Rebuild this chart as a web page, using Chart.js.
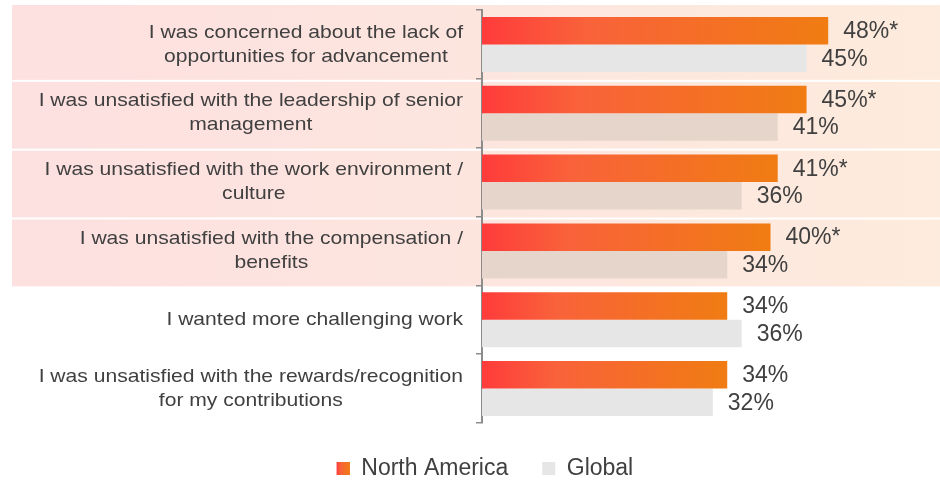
<!DOCTYPE html>
<html>
<head>
<meta charset="utf-8">
<script src="https://cdn.jsdelivr.net/npm/chart.js@4.4.1/dist/chart.umd.min.js"></script>
<style>
  html, body { margin: 0; padding: 0; background: #fff; }
  #wrap { width: 940px; height: 480px; }
</style>
</head>
<body>
<div id="wrap"><canvas id="reasonsChart"></canvas></div>
<script>
// reasons for leaving, one entry per row (lines of the label)
const categories = [
    ['I was concerned about the lack of', 'opportunities for advancement'],
    ['I was unsatisfied with the leadership of senior', 'management'],
    ['I was unsatisfied with the work environment /', 'culture'],
    ['I was unsatisfied with the compensation /', 'benefits'],
    ['I wanted more challenging work'],
    ['I was unsatisfied with the rewards/recognition', 'for my contributions']
];
const seriesNames = ['North America', 'Global'];
const northAmerica = [48, 45, 41, 40, 34, 34];
const globalValues = [45, 41, 36, 34, 36, 32];
// rows where North America differs significantly (marked with *)
const significant = [true, true, true, true, false, false];
const highlightedRows = [0, 1, 2, 3];

const textColor = '#404040';
const axisColor = '#8c8c8c';
const FONT = "'Liberation Sans', Arial, Helvetica, sans-serif";
const globalColors = ['#e6e6e6', '#e5d5cb', '#e5d5cb', '#e5d5cb', '#e6e6e6', '#e6e6e6'];
const LABEL_STRETCH = 1.11; // category labels are set a little wide

function orangeGradient(ctx, x0, x1) {
    const g = ctx.createLinearGradient(x0, 0, x1, 0);
    g.addColorStop(0, '#ff3b3b');
    g.addColorStop(0.3, '#f9623a');
    g.addColorStop(1, '#f07c12');
    return g;
}

// each orange bar runs red -> orange over its own length
function northAmericaFill(context) {
    const chart = context.chart;
    const xScale = chart.scales.x;
    if (context.type !== 'data' || !chart.chartArea || !xScale) return '#f76a2c';
    const x0 = xScale.getPixelForValue(0);
    const x1 = xScale.getPixelForValue(northAmerica[context.dataIndex]);
    return orangeGradient(chart.ctx, x0, x1);
}

function globalFill(context) {
    return context.type === 'data' ? globalColors[context.dataIndex] : '#e6e6e6';
}

const decorations = {
    id: 'decorations',
    // pink/peach bands behind the highlighted rows
    beforeDraw(chart) {
        const { ctx, scales: { y } } = chart;
        const half = (y.getPixelForValue(1) - y.getPixelForValue(0)) / 2;
        const g = ctx.createLinearGradient(12, 0, chart.width, 0);
        g.addColorStop(0, '#fde0e0');
        g.addColorStop(1, '#fdebdd');
        ctx.save();
        ctx.fillStyle = g;
        highlightedRows.forEach(i => {
            const c = y.getPixelForValue(i);
            const top = i === 0 ? c - half - 5 : c - half + 3;
            const bottom = c + half + 1;
            ctx.fillRect(12, top, chart.width - 12, bottom - top);
        });
        ctx.restore();
    },
    // category labels: block right-aligned, lines centred inside the block
    beforeDatasetsDraw(chart) {
        const { ctx, chartArea, scales: { y } } = chart;
        const labelRight = chartArea.left - 19;
        ctx.save();
        ctx.font = `19px ${FONT}`;
        ctx.fillStyle = textColor;
        ctx.textAlign = 'center';
        ctx.textBaseline = 'middle';
        categories.forEach((lines, i) => {
            const c = y.getPixelForValue(i);
            const w = Math.max(...lines.map(l => ctx.measureText(l).width)) * LABEL_STRETCH;
            const cx = labelRight - w / 2;
            lines.forEach((l, k) => {
                ctx.save();
                ctx.translate(cx, c + (k - (lines.length - 1) / 2) * 24);
                ctx.scale(LABEL_STRETCH, 1);
                ctx.fillText(l, 0, 0);
                ctx.restore();
            });
        });
        ctx.restore();
    },
    // value labels to the right of each bar
    afterDatasetsDraw(chart) {
        const { ctx } = chart;
        ctx.save();
        ctx.font = `23px ${FONT}`;
        ctx.fillStyle = textColor;
        ctx.textAlign = 'left';
        ctx.textBaseline = 'middle';
        chart.data.datasets.forEach((ds, di) => {
            chart.getDatasetMeta(di).data.forEach((bar, i) => {
                const text = ds.data[i] + '%' + (di === 0 && significant[i] ? '*' : '');
                ctx.fillText(text, bar.x + 15, bar.y + 1);
            });
        });
        ctx.restore();
    },
    // legend swatch for North America gets the same red -> orange fade
    afterDraw(chart) {
        const legend = chart.legend;
        if (!legend || !legend.legendHitBoxes.length) return;
        const hb = legend.legendHitBoxes[0];
        const box = 13;
        const top = hb.top + (hb.height - box) / 2;
        const { ctx } = chart;
        ctx.save();
        ctx.fillStyle = orangeGradient(ctx, hb.left, hb.left + box);
        ctx.fillRect(hb.left, top, box, box);
        ctx.restore();
    }
};

const ctx = document.getElementById('reasonsChart').getContext('2d');
const chart = new Chart(ctx, {
    type: 'bar',
    data: {
        labels: categories,
        datasets: [
            {
                label: seriesNames[0],
                data: northAmerica,
                backgroundColor: northAmericaFill,
                categoryPercentage: 0.8,
                barPercentage: 1.0
            },
            {
                label: seriesNames[1],
                data: globalValues,
                backgroundColor: globalFill,
                categoryPercentage: 0.8,
                barPercentage: 1.0
            }
        ]
    },
    options: {
        indexAxis: 'y',
        responsive: true,
        maintainAspectRatio: false,
        animation: false,
        layout: { padding: { top: 10, right: 0, bottom: 0, left: 30 } },
        scales: {
            x: {
                display: false,
                min: 0,
                max: 63.5
            },
            y: {
                afterFit(scale) { scale.width = 452; },
                ticks: { display: false },
                grid: {
                    display: true,
                    drawOnChartArea: false,
                    drawTicks: true,
                    tickLength: 6,
                    offset: true,
                    color: axisColor,
                    lineWidth: 1.5
                },
                border: { display: true, color: axisColor, width: 2 }
            }
        },
        plugins: {
            legend: {
                position: 'bottom',
                maxHeight: 57,
                labels: {
                    boxWidth: 13,
                    boxHeight: 13,
                    padding: 34,
                    color: textColor,
                    font: { family: FONT, size: 23 }
                }
            },
            tooltip: { enabled: false }
        }
    },
    plugins: [decorations]
});
</script>
</body>
</html>
